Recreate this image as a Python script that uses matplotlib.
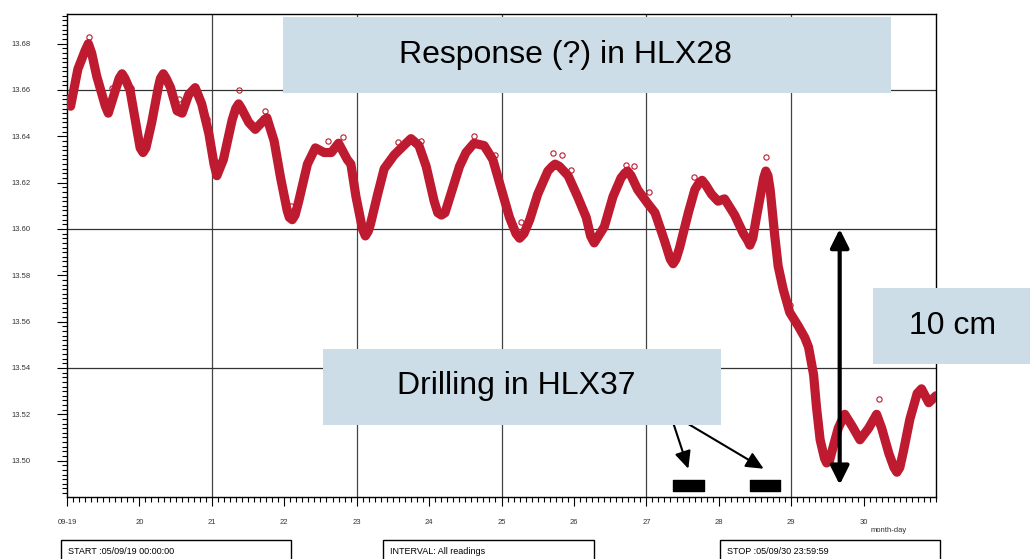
import matplotlib
matplotlib.use("Agg")
import matplotlib.pyplot as plt
from matplotlib.patches import Rectangle
from matplotlib.ticker import MultipleLocator
import numpy as np

plt.rcParams['font.family'] = ['Liberation Sans', 'DejaVu Sans']

# Water level HLX28, day of September 2005 (decimal) and level [m]
days = [19.00, 19.05, 19.15, 19.25, 19.295, 19.34, 19.41, 19.53, 19.57, 19.66,
        19.72, 19.76, 19.80, 19.87, 19.96, 20.01, 20.05, 20.09, 20.17, 20.26,
        20.29, 20.33, 20.37, 20.43, 20.52, 20.59, 20.68, 20.77, 20.86, 20.96,
        21.03, 21.07, 21.16, 21.28, 21.33, 21.37, 21.41, 21.51, 21.60, 21.69,
        21.76, 21.86, 21.95, 22.04, 22.07, 22.11, 22.15, 22.20, 22.32, 22.43,
        22.55, 22.65, 22.75, 22.87, 22.92, 22.99, 23.08, 23.12, 23.16, 23.19,
        23.29, 23.38, 23.52, 23.65, 23.75, 23.86, 23.96, 24.07, 24.12, 24.17,
        24.22, 24.30, 24.42, 24.51, 24.62, 24.76, 24.88, 24.99, 25.11, 25.20,
        25.25, 25.31, 25.39, 25.50, 25.64, 25.70, 25.74, 25.80, 25.92, 26.05,
        26.17, 26.23, 26.28, 26.34, 26.42, 26.54, 26.65, 26.70, 26.74, 26.79,
        26.88, 27.02, 27.12, 27.25, 27.33, 27.37, 27.41, 27.46, 27.58, 27.67,
        27.73, 27.77, 27.82, 27.90, 27.99, 28.08, 28.22, 28.34, 28.40, 28.43,
        28.47, 28.52, 28.59, 28.62, 28.65, 28.68, 28.71, 28.77, 28.82, 28.89,
        28.98, 29.10, 29.19, 29.24, 29.31, 29.35, 29.40, 29.46, 29.49, 29.53,
        29.58, 29.65, 29.74, 29.84, 29.95, 30.07, 30.18, 30.25, 30.35, 30.42,
        30.46, 30.50, 30.55, 30.64, 30.74, 30.80, 30.90, 31.00]
level = [13.656, 13.653, 13.669, 13.677, 13.680, 13.676, 13.666, 13.653, 13.650, 13.659,
         13.665, 13.667, 13.665, 13.660, 13.644, 13.635, 13.633, 13.635, 13.646, 13.661,
         13.665, 13.667, 13.665, 13.661, 13.651, 13.650, 13.658, 13.661, 13.654, 13.641,
         13.628, 13.623, 13.630, 13.647, 13.652, 13.654, 13.652, 13.646, 13.643, 13.646,
         13.648, 13.638, 13.622, 13.608, 13.605, 13.604, 13.606, 13.612, 13.628, 13.635,
         13.633, 13.633, 13.637, 13.630, 13.628, 13.614, 13.600, 13.597, 13.599, 13.602,
         13.615, 13.626, 13.632, 13.636, 13.639, 13.636, 13.627, 13.612, 13.607, 13.606,
         13.607, 13.615, 13.627, 13.633, 13.637, 13.636, 13.630, 13.618, 13.605, 13.598,
         13.596, 13.598, 13.604, 13.615, 13.625, 13.627, 13.628, 13.627, 13.623, 13.614,
         13.605, 13.597, 13.594, 13.597, 13.601, 13.614, 13.622, 13.624, 13.625, 13.623,
         13.617, 13.611, 13.607, 13.595, 13.587, 13.585, 13.587, 13.592, 13.607, 13.617,
         13.620, 13.621, 13.619, 13.615, 13.612, 13.613, 13.606, 13.598, 13.595, 13.593,
         13.596, 13.605, 13.617, 13.622, 13.625, 13.623, 13.617, 13.598, 13.584, 13.574,
         13.564, 13.558, 13.553, 13.549, 13.537, 13.523, 13.509, 13.501, 13.499, 13.500,
         13.506, 13.514, 13.520, 13.515, 13.509, 13.514, 13.520, 13.514, 13.503, 13.497,
         13.495, 13.497, 13.504, 13.518, 13.529, 13.531, 13.525, 13.528]

# stray readings
odd_days = [19.30, 19.62, 19.89, 20.54, 20.94, 21.05, 21.37, 21.66, 21.70, 21.74,
            22.09, 22.61, 22.81, 23.57, 23.89, 24.62, 24.91, 25.27, 25.71, 25.84,
            25.96, 26.72, 26.83, 27.03, 27.66, 28.65, 28.99, 30.21]
odd_level = [13.683, 13.661, 13.661, 13.656, 13.6475, 13.629, 13.660, 13.646, 13.648, 13.651,
             13.610, 13.638, 13.6395, 13.6376, 13.638, 13.640, 13.632, 13.603, 13.633, 13.632,
             13.6255, 13.6276, 13.627, 13.616, 13.6225, 13.631, 13.567, 13.5264]

# drilling periods in HLX37
drill_start = [27.37, 28.43]
drill_end = [27.80, 28.84]

# level change marked on the plot
drop_day = 29.67
drop_top = 13.600
drop_bottom = 13.4896

red = '#be1a30'
box_blue = '#cddde7'

fig = plt.figure(figsize=(10.30, 5.59), dpi=100)
W, H = 1030.0, 559.0
ax = fig.add_axes([67 / W, 1 - 497 / H, (936 - 67) / W, (497 - 14) / H])

ax.plot(days, level, color=red, lw=6.6, solid_capstyle='round',
        solid_joinstyle='round', zorder=3)
ax.plot(odd_days, odd_level, ls='none', marker='o', ms=3.8, mfc='none',
        mec=red, mew=0.8, zorder=3)

ax.set_xlim(19, 31)
ax.set_ylim(13.4843, 13.6928)

# grid every second day / every 6 cm
for d in [21, 23, 25, 27, 29]:
    ax.axvline(d, color='#444444', lw=0.9, zorder=1)
for v in [13.66, 13.60, 13.54]:
    ax.axhline(v, color='#333333', lw=0.9, zorder=1)

ax.set_xticks(np.arange(19, 31))
ax.set_xticklabels(['09-19'] + [str(d) for d in range(20, 31)])
ax.xaxis.set_minor_locator(MultipleLocator(1 / 12))
ax.set_yticks([13.50, 13.52, 13.54, 13.56, 13.58, 13.60, 13.62, 13.64, 13.66, 13.68])
ax.set_yticklabels(['%.2f' % v for v in ax.get_yticks()])
ax.yaxis.set_minor_locator(MultipleLocator(0.002))

ax.tick_params(axis='x', which='major', direction='out', length=6.5, width=0.8,
               pad=9, labelsize=5.5, labelcolor='#333333')
ax.tick_params(axis='x', which='minor', direction='out', length=3.6, width=0.8)
ax.tick_params(axis='y', which='major', direction='out', length=7.2, width=0.8,
               pad=19, labelsize=5.5, labelcolor='#333333')
ax.tick_params(axis='y', which='minor', direction='out', length=3.6, width=0.8)
for s in ax.spines.values():
    s.set_linewidth(1.0)
    s.set_color('black')

# drilling bars and arrows
ax.broken_barh([(s, e - s) for s, e in zip(drill_start, drill_end)],
               (13.4870, 0.0048), color='black', zorder=4)
ax.annotate('', xy=(drop_day, drop_top), xytext=(drop_day, drop_bottom),
            arrowprops=dict(arrowstyle='<|-|>,head_length=0.8,head_width=0.4',
                            mutation_scale=14, lw=3, color='black',
                            shrinkA=0, shrinkB=0), zorder=6)
ax.annotate('', xy=(27.58, 13.4965), xytext=(27.374, 13.516),
            arrowprops=dict(arrowstyle='-|>,head_length=0.75,head_width=0.35',
                            mutation_scale=14, lw=1.5, color='black',
                            shrinkA=0, shrinkB=0), zorder=6)
ax.annotate('', xy=(28.62, 13.4965), xytext=(27.57, 13.516),
            arrowprops=dict(arrowstyle='-|>,head_length=0.75,head_width=0.35',
                            mutation_scale=14, lw=1.5, color='black',
                            shrinkA=0, shrinkB=0), zorder=6)

fig.text(889 / W, 1 - 531 / H, 'month-day', ha='center', va='center', fontsize=5.5,
         color='#333333')


def label_box(x0, y0, x1, y1, text, tx, ty):
    fig.add_artist(Rectangle((x0 / W, 1 - y1 / H), (x1 - x0) / W, (y1 - y0) / H,
                             transform=fig.transFigure, facecolor=box_blue,
                             edgecolor='none', zorder=5))
    fig.text(tx / W, 1 - ty / H, text, ha='center', va='center', fontsize=23,
             color='black', zorder=7)


label_box(283, 17, 891, 93, 'Response (?) in HLX28', 565, 55)
label_box(873, 288, 1030, 364, '10 cm', 953, 326)
label_box(323, 349, 721, 425, 'Drilling in HLX37', 516, 386)


def info_box(x0, x1, text):
    fig.add_artist(Rectangle((x0 / W, -0.05), (x1 - x0) / W, 0.05 + 1 - 540 / H,
                             transform=fig.transFigure, facecolor='white',
                             edgecolor='black', lw=1.0, zorder=5))
    fig.text((x0 + 7) / W, 1 - 552 / H, text, ha='left', va='center', fontsize=6.5,
             color='black', zorder=7)


info_box(61, 291, 'START :05/09/19 00:00:00')
info_box(383, 594, 'INTERVAL: All readings')
info_box(720, 940, 'STOP :05/09/30 23:59:59')

fig.savefig('out.png', dpi=100)
